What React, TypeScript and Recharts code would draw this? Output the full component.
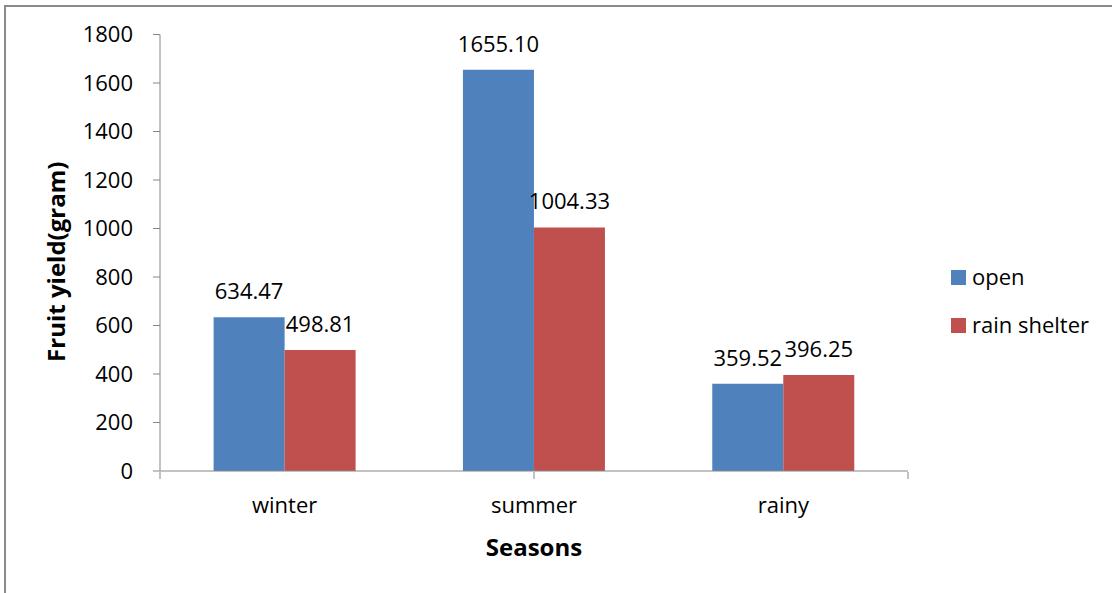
import { BarChart, Bar, XAxis, YAxis, Legend, LabelList, Label } from 'recharts';

const seasons = ['winter', 'summer', 'rainy'];
const openYield = [634.47, 1655.1, 359.52];
const shelterYield = [498.81, 1004.33, 396.25];
const yTicks = [0, 200, 400, 600, 800, 1000, 1200, 1400, 1600, 1800];
const seriesNames = ['open', 'rain shelter'];
const seriesColors = ['#4F81BD', '#C0504D'];
// category boundaries for the bottom axis tick marks
const seasonEdges = [0, 1, 2, 3];

const chartData = seasons.map((season, i) => ({
    season,
    open: openYield[i],
    shelter: shelterYield[i],
}));

const FONT = '"Open Sans", sans-serif';
const AXIS_GRAY = '#868686';

const renderValue = (props: any) => {
    const x = Number(props.x);
    const y = Number(props.y);
    const width = Number(props.width);
    return (
        <text
            x={x + width / 2}
            y={y - 18}
            textAnchor="middle"
            fontSize={22}
            fontFamily={FONT}
            fill="#000"
        >
            {Number(props.value).toFixed(2)}
        </text>
    );
};

const SeasonTick = (props: any) => {
    const { x, y, payload } = props;
    return (
        <text x={x} y={y + 42} textAnchor="middle" fontSize={22} fontFamily={FONT} fill="#000">
            {payload.value}
        </text>
    );
};

const LegendBox = () => (
    <svg width={145} height={70} style={{ overflow: 'visible', display: 'block' }}>
        {seriesNames.map((name, i) => (
            <g key={name}>
                <rect x={0} y={i * 48} width={15} height={15} fill={seriesColors[i]} />
                <text x={21} y={i * 48 + 15} fontSize={22} fontFamily={FONT} fill="#000">
                    {name}
                </text>
            </g>
        ))}
    </svg>
);

export default function App() {
    return (
        <div
            style={{
                position: 'fixed',
                left: 0,
                top: 0,
                width: 1112,
                height: 593,
                overflow: 'hidden',
                background: '#fff',
            }}
        >
            <div
                style={{
                    position: 'absolute',
                    left: 4,
                    top: 5,
                    width: 1300,
                    height: 800,
                    borderLeft: '2px solid #8a8a8a',
                    borderTop: '2px solid #8a8a8a',
                }}
            />
            <div style={{ position: 'absolute', left: 0, top: 0 }}>
                <BarChart
                    width={1112}
                    height={593}
                    data={chartData}
                    margin={{ top: 34.5, right: 204, bottom: 72, left: 60 }}
                    barCategoryGap="21.5%"
                    barGap={0}
                >
                    <XAxis
                        dataKey="season"
                        height={1}
                        stroke={AXIS_GRAY}
                        tickLine={false}
                        tickSize={0}
                        tickMargin={0}
                        tick={<SeasonTick />}
                        interval={0}
                    >
                        <Label
                            content={(p: any) => {
                                const vb = p.viewBox;
                                return (
                                    <text
                                        x={vb.x + vb.width / 2}
                                        y={vb.y + 85}
                                        textAnchor="middle"
                                        fontSize={24}
                                        fontWeight="bold"
                                        fontFamily={FONT}
                                        fill="#000"
                                    >
                                        Seasons
                                    </text>
                                );
                            }}
                        />
                    </XAxis>
                    <XAxis
                        xAxisId="edges"
                        type="number"
                        domain={[0, 3]}
                        ticks={seasonEdges}
                        height={49}
                        axisLine={false}
                        stroke={AXIS_GRAY}
                        tickSize={7}
                        tick={() => <g />}
                        allowDataOverflow
                    />
                    <YAxis
                        width={100}
                        domain={[0, 1800]}
                        ticks={yTicks}
                        stroke={AXIS_GRAY}
                        tickSize={7}
                        tickMargin={20}
                        tick={{ fill: '#000', fontSize: 22, fontFamily: FONT }}
                    >
                        <Label
                            content={(p: any) => {
                                const vb = p.viewBox;
                                const cx = vb.x + 5;
                                const cy = vb.y + vb.height / 2 + 9;
                                return (
                                    <text
                                        x={cx}
                                        y={cy}
                                        transform={`rotate(-90 ${cx} ${cy})`}
                                        textAnchor="middle"
                                        fontSize={24}
                                        fontWeight="bold"
                                        fontFamily={FONT}
                                        fill="#000"
                                    >
                                        Fruit yield(gram)
                                    </text>
                                );
                            }}
                        />
                    </YAxis>
                    <Legend
                        layout="vertical"
                        align="center"
                        verticalAlign="middle"
                        content={<LegendBox />}
                        wrapperStyle={{ left: 951, top: 270, width: 145 }}
                    />
                    <Bar dataKey="open" name={seriesNames[0]} fill={seriesColors[0]} isAnimationActive={false}>
                        <LabelList dataKey="open" content={renderValue} />
                    </Bar>
                    <Bar dataKey="shelter" name={seriesNames[1]} fill={seriesColors[1]} isAnimationActive={false}>
                        <LabelList dataKey="shelter" content={renderValue} />
                    </Bar>
                </BarChart>
            </div>
        </div>
    );
}
